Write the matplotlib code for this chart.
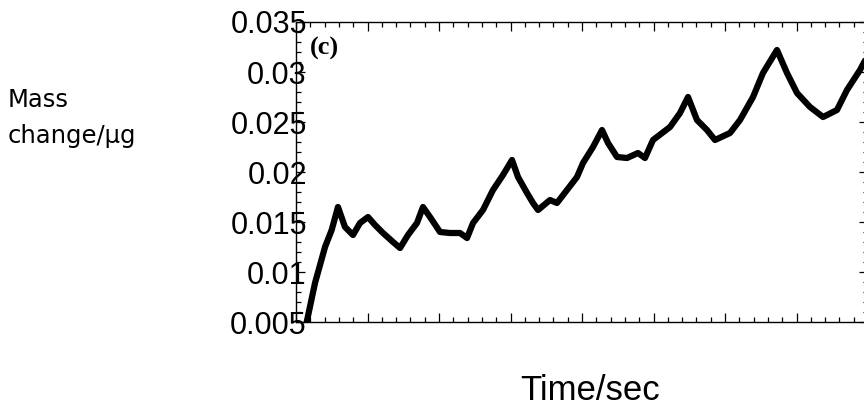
import numpy as np
import matplotlib
matplotlib.use("Agg")
import matplotlib.pyplot as plt
from matplotlib.ticker import MultipleLocator, FixedLocator, FixedFormatter

# (time in arbitrary units, mass change in ug)
time_s = [15.0, 26.6, 40.6, 49.9, 58.7, 68.5, 79.7, 89.5, 100.7, 110.5,
          121.7, 135.7, 145.5, 156.6, 169.2, 177.6, 187.4, 201.4, 215.4, 229.4,
          239.2, 247.6, 261.5, 275.5, 289.5, 302.1, 310.5, 323.1, 331.5, 338.5,
          355.2, 365.0, 379.0, 393.0, 401.4, 415.4, 428.0, 436.4, 449.0, 463.0,
          478.3, 488.1, 499.3, 523.1, 537.1, 548.3, 560.8, 574.8, 586.0, 607.0,
          621.0, 639.2, 653.1, 672.7, 686.7, 700.7, 718.9, 737.1, 756.6, 770.6,
          788.8, 800.0]
mass_change = [0.0050, 0.0089, 0.0125, 0.0142, 0.0165, 0.0145, 0.0137, 0.0149, 0.0155, 0.0147,
               0.0139, 0.0130, 0.0124, 0.0137, 0.0149, 0.0165, 0.0155, 0.0140, 0.0139, 0.0139,
               0.0134, 0.0149, 0.0162, 0.0182, 0.0197, 0.0212, 0.0195, 0.0179, 0.0169, 0.0162,
               0.0172, 0.0169, 0.0182, 0.0195, 0.0209, 0.0225, 0.0242, 0.0229, 0.0215, 0.0214,
               0.0219, 0.0214, 0.0232, 0.0245, 0.0259, 0.0275, 0.0252, 0.0242, 0.0232, 0.0239,
               0.0252, 0.0275, 0.0299, 0.0322, 0.0299, 0.0279, 0.0265, 0.0255, 0.0262, 0.0282,
               0.0302, 0.0317]

y_ticks = [0.005, 0.01, 0.015, 0.02, 0.025, 0.03, 0.035]
y_tick_labels = ["0.005", "0.01", "0.015", "0.02", "0.025", "0.03", "0.035"]

plt.rcParams["font.family"] = ["Liberation Sans", "DejaVu Sans"]

fig = plt.figure(figsize=(8.64, 4.08), dpi=100)
# axes runs slightly past the right edge of the figure, as in the reference
ax = fig.add_axes([296 / 864, 86 / 408, 572 / 864, 300 / 408])

ax.plot(time_s, mass_change, color="black", lw=4.5, solid_joinstyle="round",
        solid_capstyle="round")

ax.set_xlim(0, 800)
ax.set_ylim(0.005, 0.035)

ax.xaxis.set_major_locator(MultipleLocator(100))
ax.xaxis.set_minor_locator(MultipleLocator(20))
ax.yaxis.set_major_locator(FixedLocator(y_ticks))
ax.yaxis.set_major_formatter(FixedFormatter(y_tick_labels))
ax.yaxis.set_minor_locator(MultipleLocator(0.001))

ax.tick_params(which="both", direction="in", top=True, right=True,
               labelbottom=False, width=0.9, color="black")
ax.tick_params(which="major", length=6.5)
ax.tick_params(which="minor", length=3.6)
ax.tick_params(axis="y", which="major", labelsize=22, pad=-7.8)

for s in ax.spines.values():
    s.set_linewidth(1.0)

ax.text(0.024, 0.89, "(c)", transform=ax.transAxes, fontsize=19,
        fontweight="bold", family="Liberation Serif", va="baseline", ha="left")

fig.text(8 / 864, 1 - 107 / 408, "Mass", fontsize=17.5, family="DejaVu Sans",
         ha="left", va="baseline")
fig.text(8 / 864, 1 - 143 / 408, "change/\u03bcg", fontsize=17.5, family="DejaVu Sans",
         ha="left", va="baseline")
fig.text(590.5 / 864, 1 - 400 / 408, "Time/sec", fontsize=25, ha="center", va="baseline")

fig.savefig("out.png", dpi=100)
